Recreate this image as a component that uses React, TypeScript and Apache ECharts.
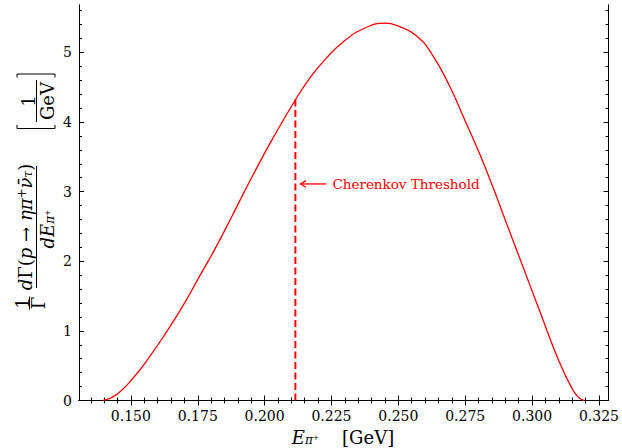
import React, { useEffect, useRef } from "react";
import * as echarts from "echarts";

// ---- data ----
const energy = [
  0.1396, 0.1448, 0.151, 0.1572, 0.1634, 0.1696, 0.1759, 0.1812, 0.1877, 0.1954,
  0.203, 0.2117, 0.2169, 0.2229, 0.23, 0.2375, 0.2449, 0.2505, 0.2567, 0.2623,
  0.2691, 0.2747, 0.2803, 0.2853, 0.29, 0.2963, 0.3027, 0.3101, 0.3151, 0.3175,
  0.3196,
];
const rate = [
  0, 0.09, 0.33, 0.64, 0.99, 1.37, 1.8, 2.16, 2.64, 3.22,
  3.76, 4.33, 4.63, 4.91, 5.17, 5.35, 5.42, 5.37, 5.24, 4.99,
  4.52, 4.04, 3.55, 3.07, 2.59, 1.95, 1.3, 0.56, 0.16, 0.04,
  0,
];
const thresholdE = [0.2115, 0.2115];
const thresholdRate = [0, 4.33];
const annotationY = 3.11;
const arrowTipE = 0.2134;
const arrowTailE = 0.2231;
const annotationText = "Cherenkov Threshold";

const xMajorTicks = [0.15, 0.175, 0.2, 0.225, 0.25, 0.275, 0.3, 0.325];
const xTickLabels = ["0.150", "0.175", "0.200", "0.225", "0.250", "0.275", "0.300", "0.325"];
const yMajorTicks = [0, 1, 2, 3, 4, 5];
const yTickLabels = ["0", "1", "2", "3", "4", "5"];
const xMin = 0.1306;
const xMax = 0.3286;
const yMin = 0;
const yMax = 5.68;

const xMinorTicks: number[] = [];
for (let i = 27; i <= 65; i++) xMinorTicks.push(+(i * 0.005).toFixed(3));
const yMinorTicks: number[] = [];
for (let i = 0; i <= 28; i++) yMinorTicks.push(+(i * 0.2).toFixed(1));

const SERIF = "'DejaVu Serif', serif";
const RED = "#ff0000";
const INK = "#000000";

function labelFor(ticks: number[], labels: string[], v: number) {
  let best = 0;
  for (let i = 0; i < ticks.length; i++) {
    if (Math.abs(ticks[i] - v) < Math.abs(ticks[best] - v)) best = i;
  }
  return labels[best];
}

function makeXAxis(position: "bottom" | "top", major: boolean, showLabel: boolean) {
  return {
    type: "value",
    position,
    min: xMin,
    max: xMax,
    axisLine: { show: true, lineStyle: { color: INK, width: 1 } },
    axisTick: {
      show: true,
      inside: true,
      length: major ? 5 : 3,
      customValues: major ? xMajorTicks : xMinorTicks,
      lineStyle: { color: INK, width: 1 },
    },
    axisLabel: showLabel
      ? {
          show: true,
          customValues: xMajorTicks,
          formatter: (v: number) => labelFor(xMajorTicks, xTickLabels, v),
          fontFamily: SERIF,
          fontSize: 14,
          color: INK,
          margin: 8,
        }
      : { show: false },
    splitLine: { show: false },
  };
}

function makeYAxis(position: "left" | "right", major: boolean, showLabel: boolean) {
  return {
    type: "value",
    position,
    min: yMin,
    max: yMax,
    axisLine: { show: true, lineStyle: { color: INK, width: 1 } },
    axisTick: {
      show: true,
      inside: true,
      length: major ? 5 : 3,
      customValues: major ? yMajorTicks : yMinorTicks,
      lineStyle: { color: INK, width: 1 },
    },
    axisLabel: showLabel
      ? {
          show: true,
          customValues: yMajorTicks,
          formatter: (v: number) => labelFor(yMajorTicks, yTickLabels, v),
          fontFamily: SERIF,
          fontSize: 14,
          color: INK,
          margin: 7,
        }
      : { show: false },
    splitLine: { show: false },
  };
}

const mathRich = {
  i: { fontFamily: SERIF, fontStyle: "italic", fontSize: 18, color: INK },
  r: { fontFamily: SERIF, fontSize: 18, color: INK },
  sup: { fontFamily: SERIF, fontSize: 12, color: INK, verticalAlign: "top", padding: [0, 0, 6, 0] },
  sub: { fontFamily: SERIF, fontStyle: "italic", fontSize: 12, color: INK, verticalAlign: "bottom", padding: [6, 0, 0, 0] },
};

export default function App() {
  const ref = useRef<HTMLDivElement>(null);
  useEffect(() => {
    if (!ref.current) return;
    const chart = echarts.init(ref.current, null, { renderer: "svg" });
    const curve = energy.map((e, i) => [e, rate[i]]);
    const threshold = thresholdE.map((e, i) => [e, thresholdRate[i]]);
    chart.setOption({
      animation: false,
      backgroundColor: "#ffffff",
      grid: { left: 79, top: 5, width: 531, height: 395.5, containLabel: false },
      xAxis: [
        makeXAxis("bottom", true, true),
        makeXAxis("bottom", false, false),
        makeXAxis("top", true, false),
        makeXAxis("top", false, false),
      ],
      yAxis: [
        makeYAxis("left", true, true),
        makeYAxis("left", false, false),
        makeYAxis("right", true, false),
        makeYAxis("right", false, false),
      ],
      series: [
        {
          type: "line",
          data: curve,
          xAxisIndex: 0,
          yAxisIndex: 0,
          showSymbol: false,
          smooth: true,
          lineStyle: { color: RED, width: 1.3 },
          silent: true,
        },
        {
          type: "line",
          data: threshold,
          xAxisIndex: 0,
          yAxisIndex: 0,
          showSymbol: false,
          lineStyle: { color: RED, width: 2, type: [7, 3.5] },
          silent: true,
        },
      ],
    });

    const tip = chart.convertToPixel({ seriesIndex: 0 }, [arrowTipE, annotationY]) as number[];
    const tail = chart.convertToPixel({ seriesIndex: 0 }, [arrowTailE, annotationY]) as number[];
    const rot = Math.PI / 2;
    const black = { stroke: INK, lineWidth: 1 };

    chart.setOption({
      graphic: [
        // annotation arrow
        { type: "line", shape: { x1: tail[0], y1: tail[1], x2: tip[0] + 1, y2: tip[1] }, style: { stroke: RED, lineWidth: 1.3 } },
        {
          type: "polyline",
          shape: { points: [[tip[0] + 5.5, tip[1] - 3.3], [tip[0], tip[1]], [tip[0] + 5.5, tip[1] + 3.3]] },
          style: { stroke: RED, lineWidth: 1.3, fill: "none" },
        },
        {
          type: "text",
          x: tail[0] + 6,
          y: tip[1],
          style: { text: annotationText, fill: RED, font: `13.5px ${SERIF}`, verticalAlign: "middle", align: "left" },
        },
        // x-axis title
        {
          type: "text",
          x: 343,
          y: 437,
          style: {
            text: "{i|E}{sub|π⁺}{r|    [GeV]}",
            rich: mathRich,
            align: "center",
            verticalAlign: "middle",
          },
        },
        // y-axis title: 1/Γ
        { type: "text", x: 22, y: 303, rotation: rot, style: { text: "1", font: `18px ${SERIF}`, fill: INK, align: "center", verticalAlign: "middle" } },
        { type: "line", shape: { x1: 29.5, y1: 296.5, x2: 29.5, y2: 309.5 }, style: black },
        { type: "text", x: 38, y: 303, rotation: rot, style: { text: "Γ", font: `18px ${SERIF}`, fill: INK, align: "center", verticalAlign: "middle" } },
        // big fraction
        {
          type: "text",
          x: 25,
          y: 227,
          rotation: rot,
          style: {
            text: "{i|d}{r|Γ(}{i|p}{r| → }{i|ηπ}{sup|+}{i|ν̄}{sub|τ}{r|)}",
            rich: mathRich,
            align: "center",
            verticalAlign: "middle",
          },
        },
        { type: "line", shape: { x1: 36.5, y1: 166, x2: 36.5, y2: 288 }, style: black },
        {
          type: "text",
          x: 47,
          y: 229,
          rotation: rot,
          style: { text: "{i|dE}{sub|π⁺}", rich: mathRich, align: "center", verticalAlign: "middle" },
        },
        // [1/GeV]
        { type: "text", x: 28, y: 101, rotation: rot, style: { text: "1", font: `18px ${SERIF}`, fill: INK, align: "center", verticalAlign: "middle" } },
        { type: "line", shape: { x1: 36.5, y1: 80, x2: 36.5, y2: 122 }, style: black },
        { type: "text", x: 47.5, y: 101, rotation: rot, style: { text: "GeV", font: `18px ${SERIF}`, fill: INK, align: "center", verticalAlign: "middle" } },
        {
          type: "polyline",
          shape: { points: [[17, 125], [17, 128.5], [55, 128.5], [55, 125]] },
          style: { stroke: INK, lineWidth: 1, fill: "none" },
        },
        {
          type: "polyline",
          shape: { points: [[17, 77.5], [17, 74], [55, 74], [55, 77.5]] },
          style: { stroke: INK, lineWidth: 1, fill: "none" },
        },
      ],
    });

    return () => chart.dispose();
  }, []);
  return (
    <div
      ref={ref}
      style={{ position: "absolute", left: 0, top: 0, width: 622, height: 448, background: "#fff" }}
    />
  );
}
